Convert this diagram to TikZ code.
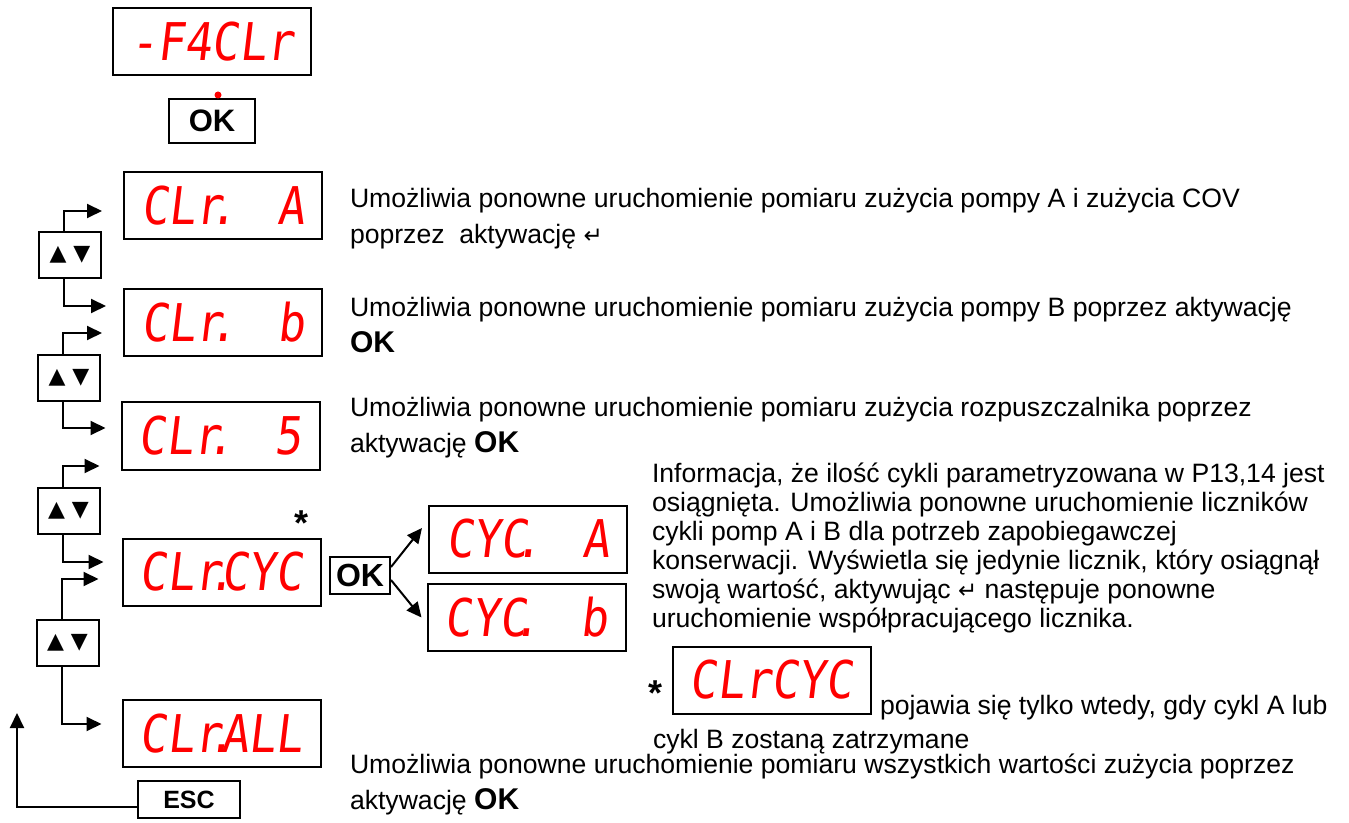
\documentclass[tikz,border=0pt]{standalone}
\usepackage{fontspec}
\setmainfont{Liberation Sans}
\newfontfamily\segfont[FakeSlant=0.12,FakeStretch=0.87]{DejaVu Sans Mono}
\newfontfamily\symfont{DejaVu Sans}
\usetikzlibrary{arrows.meta}
\newcommand\segdot{\makebox[0pt]{.}}
\newcommand\okbold{{\bfseries\fontsize{15}{18}\selectfont OK}}
\newcommand\enter{{\symfont\fontsize{11.5}{11.5}\selectfont ↵}}

\begin{document}
\begin{tikzpicture}[x=0.5pt, y=-0.5pt, line width=1pt,
  >={Stealth[inset=0pt,length=7.5pt,width=7pt]},
  disp/.style={draw, minimum width=99pt, minimum height=33.5pt, inner sep=0pt,
    text=red, font=\segfont\fontsize{26}{26}\selectfont},
  key/.style={draw, inner sep=0pt, font=\bfseries\fontsize{15.5}{15.5}\selectfont},
  updown/.style={draw, minimum width=31pt, minimum height=23pt, inner sep=0pt,
    font=\symfont\fontsize{11}{11}\selectfont},
  aster/.style={inner sep=0pt, font=\bfseries\fontsize{18}{18}\selectfont},
  desc/.style={anchor=base west, align=left, inner sep=0pt,
    font=\fontsize{13.3}{18}\selectfont}]
  \useasboundingbox (0,0) rectangle (1349,823);
  % menu -F4CLr i wejscie przez OK
  \node[disp] (top) at (212,41.5) {-F4CLr};
  \node[key, minimum width=43pt, minimum height=22pt] (ok) at (212,121) {OK};
  \node[circle, fill=red, inner sep=0pt, minimum size=3.5pt] (okdot) at (218,95) {};
  % wyswietlacze kasowania
  \node[disp] (dA) at (223,205.5) {CLr\segdot\hphantom{00}A};
  \node[disp] (dB) at (223,322.5) {CLr\segdot\hphantom{00}b};
  \node[disp] (dS) at (220.5,436) {CLr\segdot\hphantom{00}5};
  \node[disp] (dCyc) at (221.5,572) {CLr\segdot CYC};
  \node[disp] (dAll) at (221.5,733.5) {CLr\segdot ALL};
  \node[aster] (s1) at (302,523) {*};
  % przyciski gora/dol
  \node[updown] (ud1) at (70,255) {▲ ▼};
  \node[updown] (ud2) at (69,378) {▲ ▼};
  \node[updown] (ud3) at (68.5,511) {▲ ▼};
  \node[updown] (ud4) at (67.5,642.5) {▲ ▼};
  \draw[->] ([xshift=-3pt]ud1.north) |- ([xshift=-10.5pt,yshift=-2.75pt]dA.west);
  \draw[->] ([xshift=-3pt]ud1.south) |- ([xshift=-8.5pt,yshift=8.25pt]dB.west);
  \draw[->] ([xshift=-3pt]ud2.north) |- ([xshift=-10.5pt,yshift=-5.25pt]dB.west);
  \draw[->] ([xshift=-3pt]ud2.south) |- ([xshift=-7.5pt,yshift=4pt]dS.west);
  \draw[->] ([xshift=-3pt]ud3.north) |- ([xshift=-10.5pt,yshift=-15pt]dS.west);
  \draw[->] ([xshift=-3pt]ud3.south) |- ([xshift=-9pt,yshift=5pt]dCyc.west);
  \draw[->] ([xshift=-3pt]ud4.north) |- ([xshift=-11.5pt,yshift=-3.5pt]dCyc.west);
  \draw[->] ([xshift=-3pt]ud4.south) |- ([xshift=-10pt,yshift=4.75pt]dAll.west);
  % ESC wraca do gory
  \node[key, minimum width=51pt, minimum height=18.5pt,
    font=\bfseries\fontsize{12.5}{12.5}\selectfont] (esc) at (189,799.5) {ESC};
  \coordinate (back) at (17,713);
  \draw[->] ([yshift=-3.75pt]esc.west) -| (back);
  % liczniki cykli
  \node[key, minimum width=30pt, minimum height=18.5pt,
    font=\bfseries\fontsize{16}{16}\selectfont] (ok2) at (360,575.5) {OK};
  \node[disp] (cA) at (528,539) {CYC\segdot\hphantom{00}A};
  \node[disp] (cB) at (526.5,617.5) {CYC\segdot\hphantom{00}b};
  \draw[->] ([yshift=4.25pt]ok2.east) -- ([xshift=-3pt,yshift=5.5pt]cA.west);
  \draw[->] ([yshift=-2.25pt]ok2.east) -- ([xshift=-2.5pt]cB.west);
  % opisy (base = ostatnia linia)
  \node[desc] (tA) at (349,244) {Umożliwia ponowne uruchomienie pomiaru zużycia pompy A i zużycia COV\\poprzez\ \ aktywację \enter};
  \node[desc] (tB) at (349,353) {Umożliwia ponowne uruchomienie pomiaru zużycia pompy B poprzez aktywację\\\okbold};
  \node[desc] (tS) at (349,452) {Umożliwia ponowne uruchomienie pomiaru zużycia rozpuszczalnika poprzez\\aktywację \okbold};
  \node[desc, font=\fontsize{13.3}{14.5}\selectfont] (tCyc) at (651,627) {Informacja, że ilość cykli parametryzowana w P13,14 jest\\osiągnięta. Umożliwia ponowne uruchomienie liczników\\cykli pomp A i B dla potrzeb zapobiegawczej\\konserwacji. Wyświetla się jedynie licznik, który osiągnął\\swoją wartość, aktywując \enter{} następuje ponowne\\uruchomienie współpracującego licznika.};
  \node[disp] (dStar) at (771.5,680) {CLrCYC};
  \node[aster] (s2) at (655,693) {*};
  \node[desc] (tStar) at (879,714) {pojawia się tylko wtedy, gdy cykl A lub};
  \node[desc] (tStar2) at (652,748) {cykl B zostaną zatrzymane};
  \node[desc] (tAll) at (349,809) {Umożliwia ponowne uruchomienie pomiaru wszystkich wartości zużycia poprzez\\aktywację \okbold};
\end{tikzpicture}
\end{document}
